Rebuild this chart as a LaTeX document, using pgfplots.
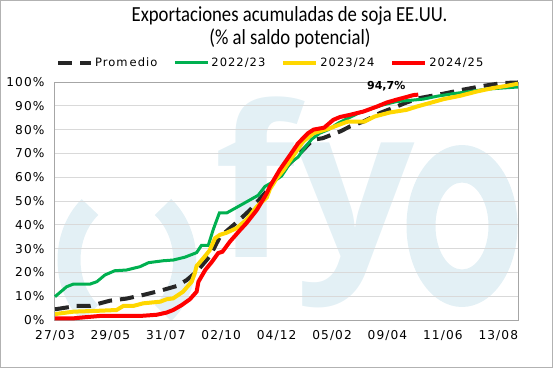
\documentclass[border=0pt]{standalone}
\usepackage{fontspec}
\setmainfont{DejaVu Sans}
\newfontfamily\tickfont[LetterSpace=9]{DejaVu Sans}
\newfontfamily\titlefont{Carlito}
\newfontfamily\wmfont{Open Sans}
\usepackage{pgfplots}
\pgfplotsset{compat=1.18}
\definecolor{cgreen}{HTML}{00B050}
\definecolor{cyellow}{HTML}{FFD700}
\definecolor{cred}{HTML}{FF0000}
\definecolor{cdash}{HTML}{262626}
\definecolor{wm}{HTML}{E3F0F5}
\definecolor{gridc}{HTML}{D9D9D9}
\begin{document}
\begin{tikzpicture}[x=1pt,y=1pt]
\draw[line width=1pt, color=black!30] (-54.5,-47.5) rectangle (497.5,319.5);
% watermark
\begin{scope}
\draw[wm, line width=23pt] (35,113) .. controls (7,85) and (7,35) .. (35,7);
\draw[wm, line width=23pt] (108,113) .. controls (137,85) and (137,35) .. (108,7);
\fill[wm, even odd rule] (407,94) ellipse [x radius=55.5, y radius=81] (407,94) ellipse [x radius=26.5, y radius=43.5];
\node[anchor=base west, inner sep=0pt, text=wm, font=\wmfont\bfseries\fontsize{210}{210}\selectfont] at (159,63) {fy};
\end{scope}
% title
\node[font=\titlefont\fontsize{21.5}{24}\selectfont, xscale=0.87, anchor=base, inner sep=0pt] at (234.5,299) {Exportaciones acumuladas de soja EE.UU.};
\node[font=\titlefont\fontsize{21.5}{24}\selectfont, xscale=0.87, anchor=base, inner sep=0pt] at (235,275.5) {(\% al saldo potencial)};
\begin{axis}[
 at={(0,0)}, anchor=south west,
 scale only axis, width=463pt, height=238pt,
 xmin=0, xmax=75.2, ymin=0, ymax=100,
 xtick={0,9,...,72},
 xticklabels={27/03,29/05,31/07,02/10,04/12,05/02,09/04,11/06,13/08},
 ytick={0,10,...,100},
 yticklabel={\pgfmathprintnumber{\tick}\%},
 /pgf/number format/assume math mode=true,
 ymajorgrids, grid style={gridc, line width=1pt},
 axis line style={black!35, line width=1pt},
 major tick length=0pt,
 tick label style={font=\tickfont\fontsize{12.2}{14}\selectfont},
 xticklabel style={yshift=-7pt},
 yticklabel style={xshift=-7pt},
 clip=false,
 legend columns=4,
 legend cell align=left,
 legend style={draw=none, fill=none, at={(0.466,1.08)}, anchor=center, inner sep=0pt,
   font=\tickfont\fontsize{11.5}{13}\selectfont,
   /tikz/every even column/.append style={column sep=14pt}},
 legend image code/.code={\draw[#1] (0pt,0pt) -- (33pt,0pt);},
]
\addplot[cdash, line width=4pt, dash pattern=on 14pt off 8pt] coordinates {
(0,4.5) (3.5,5.9) (5.7,5.9) (8.9,8.1) (11.6,9) (14.3,10.5) (17.1,12.3) (19.8,14.3) (21.4,16.8) (23,20.3) (24.4,24.5) (25.2,27) (26.8,35) (29.5,41) (31.7,46.3) (34.1,53.3) (36.5,61.5) (37.6,64.5) (40.3,71.5) (41.9,75.7) (43.5,76.4) (46.3,79.2) (47.9,81.3) (50.1,83.4) (52.8,87) (55.5,89.7) (57.1,91.4) (59.3,93.3) (63.1,95.1) (66.3,96.8) (69.6,98.4) (72.8,99.6) (75.2,99.8)
};
\addlegendentry{Prom\kern2pt edio}
\addplot[cgreen, line width=3pt] coordinates {
(0,9.8) (1.9,14) (3,15.1) (5.7,15.1) (6.8,16.1) (8.1,18.9) (9.7,20.7) (11.6,21) (13.8,22.4) (15.2,24.1) (17.6,24.9) (19.2,25.2) (21.1,26.4) (23,28.3) (23.8,31.4) (24.9,31.4) (25.7,38) (26.7,45) (27.9,45) (29.5,47.3) (31.7,50.5) (33,52.4) (34.1,56.1) (35.5,58.2) (36.8,60.5) (38.2,66) (39.5,68.5) (40.3,71.5) (41.7,76) (43,78.5) (44.4,80) (46,82.7) (47.6,84.8) (49.3,86.9) (51.2,88.6) (53.3,90.4) (55.5,91.8) (57.7,92.3) (59.8,92.8) (62,94) (64.7,95.1) (67.4,96) (70.1,97) (72.8,97.5) (75.2,97.9)
};
\addlegendentry{2022/23}
\addplot[cyellow, line width=4pt] coordinates {
(0,2.5) (3,3.5) (7.3,3.9) (10,4.2) (11.1,5.9) (12.7,5.9) (14.3,7) (17.1,7.7) (18.1,8.7) (19.2,9.1) (20.8,11.9) (22.2,16.1) (22.7,19.6) (23,22.7) (24.1,26) (25.1,29.2) (26,34.4) (26.8,35.8) (27.9,36.7) (29.5,38.6) (31.1,42.1) (32.8,47.7) (34.4,51.5) (34.9,55) (36,59.5) (37.1,63) (38.7,69) (40.3,75) (42,78.5) (44.7,80.6) (46.3,82.2) (47.6,83.4) (50.3,83.4) (51.9,85.5) (54.4,87.2) (57.1,88.3) (58.8,89.7) (60.9,91.2) (63.1,92.8) (65.8,94.2) (68.5,96) (71.2,97.5) (73.4,98.4) (75.2,99.3)
};
\addlegendentry{2023/24}
\addplot[cred, line width=4pt] coordinates {
(0,0.7) (3,0.7) (4.6,1.1) (7.3,1.7) (13.8,1.7) (16.5,2.2) (18.1,3.1) (19.2,4.2) (20.6,6.3) (21.9,8.7) (23,11.9) (23.3,16.1) (24.4,21) (25.5,24.5) (26.5,28.1) (27.2,28.7) (28.4,32.9) (30.1,37.9) (31.1,40.7) (32.8,46.3) (34.4,53.3) (34.9,56.1) (36.5,63.1) (38.2,69.4) (39.5,74.3) (41.1,78.5) (42,80) (43.7,80.8) (45.2,84.1) (46.3,85.3) (47.9,86.2) (50.1,87.6) (52.3,89.7) (53.9,91.4) (55.5,92.6) (57.1,93.7) (58.2,94.5) (59,94.7)
};
\addlegendentry{2024/25}
\node[font=\bfseries\fontsize{11}{13}\selectfont] at (axis cs:53.8,98.1) {94,7\%};
\end{axis}
\end{tikzpicture}
\end{document}
